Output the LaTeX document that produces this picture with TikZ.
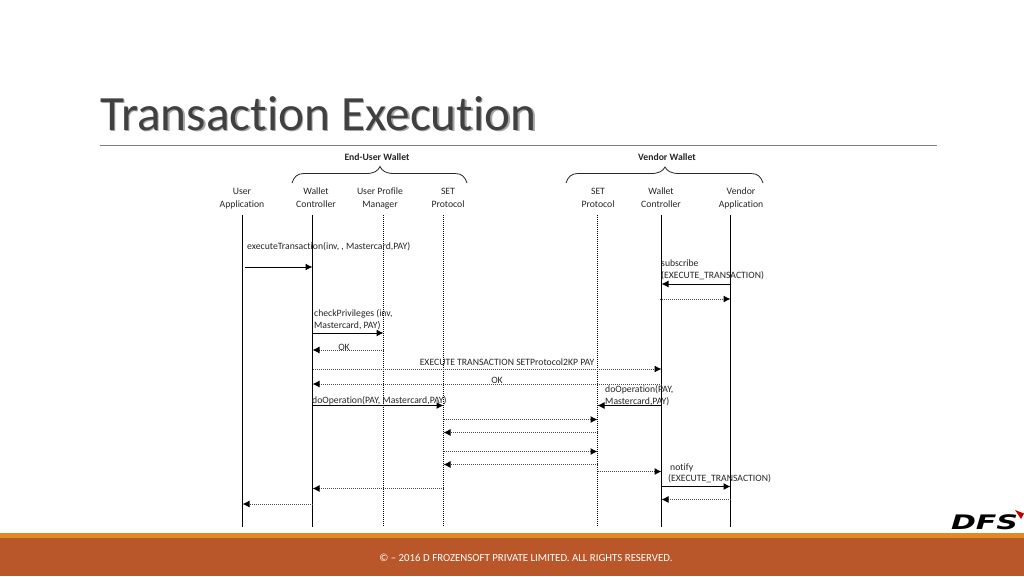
\documentclass[tikz,border=0pt]{standalone}
\usepackage{fontspec}
\setmainfont{Carlito}[Ligatures=NoCommon]
\newfontfamily\logofont{DejaVu Sans}
\usetikzlibrary{arrows.meta}
\definecolor{titlegray}{HTML}{404040}
\definecolor{rulegray}{HTML}{7F7F7F}
\definecolor{bandorange}{HTML}{E08A24}
\definecolor{bandbrown}{HTML}{B9572B}
\tikzset{
  x=1pt,y=-1pt,
  lbl/.style={inner sep=0pt,font=\fontsize{9.7}{12}\selectfont,text=black!85,text height=7pt,text depth=2pt},
  lbll/.style={lbl,anchor=west,align=left},
  head/.style={lbl,align=center,font=\fontsize{9.7}{12.6}\selectfont},
  wallet/.style={inner sep=0pt,font=\fontsize{9.7}{12}\selectfont\bfseries,text=black!85},
  solidline/.style={draw=black,line width=1pt},
  dotline/.style={draw=black,line width=1pt,dash pattern=on 1pt off 1pt},
  msg/.style={draw=black,line width=1pt,-{Latex[length=7pt,width=7pt]}},
  dmsg/.style={draw=black!70,line width=1pt,dash pattern=on 1pt off 1pt,-{Latex[length=7pt,width=7pt,color=black,fill=black]}},
  bracket/.style={draw=black!85,line width=0.8pt},
}
\begin{document}
\begin{tikzpicture}
\useasboundingbox[fill=white] (0,0) rectangle (1024,576);
% footer
\fill[bandorange] (0,533) rectangle (1024,538);
\fill[bandbrown] (0,538) rectangle (1024,576);
\node[inner sep=0pt,text=white,font=\fontsize{10.85}{13}\selectfont] (footer) at (526,557.5) {© – 2016 D FROZENSOFT PRIVATE LIMITED. ALL RIGHTS RESERVED.};
% logo
\node[inner sep=0pt,font=\logofont\bfseries\itshape\fontsize{20}{20}\selectfont,text=black,xscale=1.5] (logo) at (984.5,522.5) {DFS};
\fill[red!75!black] (1015,510) -- (1024,513.5) -- (1021,519) -- cycle;
% title
\node[anchor=west,inner sep=0pt,text=black!35,font=\fontsize{49.3}{52}\selectfont] (titleshadow) at (101.5,115) {Transaction Execution};
\node[anchor=west,inner sep=0pt,text=titlegray,font=\fontsize{49.3}{52}\selectfont] (title) at (100,113.5) {Transaction Execution};
\coordinate (ruleL) at (100,145);
\coordinate (ruleR) at (937,145);
\draw[rulegray,line width=1pt] (ruleL) -- (ruleR);
% groups
\node[wallet] (gEnd) at (377,157) {End-User Wallet};
\node[wallet] (gVen) at (667,157) {Vendor Wallet};
\draw[bracket] (292,183) .. controls (294,177) and (297,173.5) .. (304,173.5) -- (366,173.5) .. controls (374,173.5) and (378,171) .. (380,166.5) .. controls (382,171) and (386,173.5) .. (394,173.5) -- (455,173.5) .. controls (462,173.5) and (465,177) .. (467,183);
\draw[bracket] (566,183) .. controls (568,177) and (571,173.5) .. (578,173.5) -- (651,173.5) .. controls (659,173.5) and (663,171) .. (665,167) .. controls (667,171) and (671,173.5) .. (679,173.5) -- (751,173.5) .. controls (758,173.5) and (761,177) .. (763,183);
% headers
\node[head] (hua) at (242,205) {User\\Application};
\node[head] (hwc) at (316,205) {Wallet\\Controller};
\node[head] (hup) at (380,205) {User Profile\\Manager};
\node[head] (hse) at (448,205) {SET\\Protocol};
\node[head] (hsv) at (598,205) {SET\\Protocol};
\node[head] (hwv) at (661,205) {Wallet\\Controller};
\node[head] (hva) at (741,205) {Vendor\\Application};
% lifelines
\foreach \n/\x in {ua/242.5,wc/312.5,up/383.5,se/443.5,sv/597.5,wv/661.5,va/730.5}{
  \coordinate (\n) at (\x,215);
  \coordinate (\n b) at (\x,527);
}
\foreach \n in {ua,wc,wv,va} \draw[solidline] (\n) -- (\n b);
\foreach \n in {up,se,sv} \draw[dotline] (\n) -- (\n b);
% messages
\draw[msg] (ua |- 0,267) ++(2,0) -- (wc |- 0,267);
\draw[msg] (va |- 0,284) -- (wv |- 0,284);
\draw[dmsg] (wv |- 0,299) ++(-2,0) -- (va |- 0,299);
\draw[msg] (wc |- 0,333) -- (up |- 0,333);
\draw[dmsg] (up |- 0,350) -- (wc |- 0,350);
\draw[dmsg] (wc |- 0,369) -- (wv |- 0,369);
\draw[dmsg] (wv |- 0,384) -- (wc |- 0,384);
\draw[msg] (wc |- 0,405.5) -- (se |- 0,405.5);
\draw[msg] (wv |- 0,405.5) -- (sv |- 0,405.5);
\draw[dmsg] (se |- 0,419.5) -- (sv |- 0,419.5);
\draw[dmsg] (sv |- 0,432.5) -- (se |- 0,432.5);
\draw[dmsg] (se |- 0,451.5) -- (sv |- 0,451.5);
\draw[dmsg] (sv |- 0,464.5) -- (se |- 0,464.5);
\draw[dmsg] (sv |- 0,471.5) -- (wv |- 0,471.5);
\draw[msg] (wv |- 0,486.5) -- (va |- 0,486.5);
\draw[dmsg] (va |- 0,499.5) -- (wv |- 0,499.5);
\draw[dmsg] (se |- 0,488.5) -- (wc |- 0,488.5);
\draw[dmsg] (wc |- 0,504) -- (ua |- 0,504);
% labels
\node[lbll] (l1) at (247,246.5) {executeTransaction(inv, , Mastercard,PAY)};
\node[lbll] (l2) at (661,275.5) {subscribe\\(EXECUTE\_TRANSACTION)};
\node[lbll] (l4) at (314,326) {checkPrivileges (inv,\\Mastercard, PAY)};
\node[lbl] (l5) at (344,347.5) {OK};
\node[lbl] (l6) at (507,362.5) {EXECUTE TRANSACTION SETProtocol2KP PAY};
\node[lbl] (l7) at (497,380.5) {OK};
\node[lbll] (l8) at (312,400.5) {doOperation(PAY, Mastercard,PAY)};
\node[lbll] (l9) at (605,402) {doOperation(PAY,\\Mastercard,PAY)};
\node[lbll] (l10) at (670,467.5) {notify};
\node[lbll] (l11) at (668,478.5) {(EXECUTE\_TRANSACTION)};
\end{tikzpicture}
\end{document}
